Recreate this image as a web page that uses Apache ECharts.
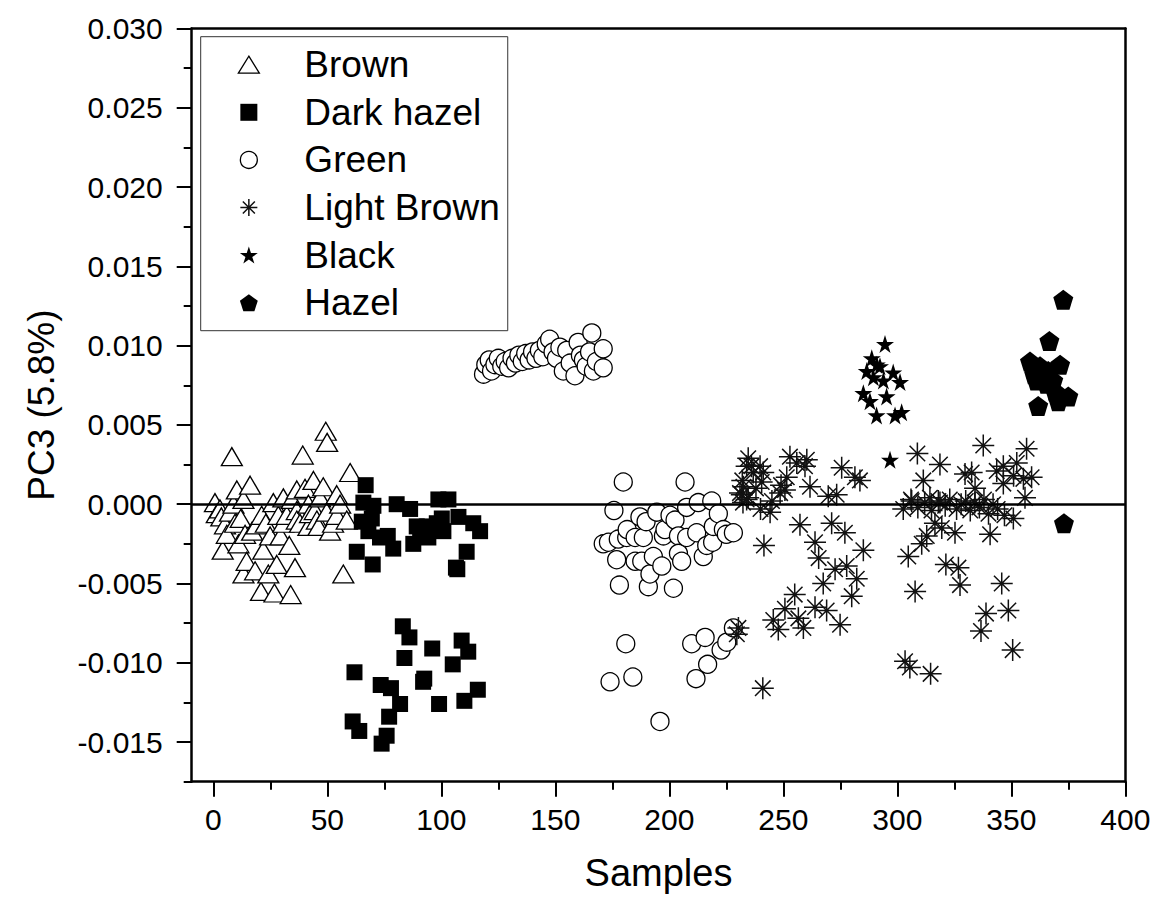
<!DOCTYPE html>
<html>
<head>
<meta charset="utf-8">
<script src="https://cdn.jsdelivr.net/npm/echarts@6/dist/echarts.min.js"></script>
<style>
html,body{margin:0;padding:0;background:#fff;}
#chart{width:1158px;height:904px;}
</style>
</head>
<body>
<div id="chart"></div>
<script>
// ---------------- data ----------------
const seriesNames = ['Brown', 'Dark hazel', 'Green', 'Light Brown', 'Black', 'Hazel'];

const xTicks = [0, 50, 100, 150, 200, 250, 300, 350, 400];
const xMinorTicks = [25, 75, 125, 175, 225, 275, 325, 375];
const yTicks = [-0.015, -0.010, -0.005, 0, 0.005, 0.010, 0.015, 0.020, 0.025, 0.030];
const yMinorTicks = [-0.0175, -0.0125, -0.0075, -0.0025, 0.0025, 0.0075, 0.0125, 0.0175, 0.0225, 0.0275];

const brown = [
  [0.7,0.0001],[1.5,-0.0006],[2.9,-0.0003],[3.5,-0.0008],[4.1,-0.0029],[5.1,-0.0013],[5.9,-0.0019],
  [7.3,-0.0005],[8.1,0.0030],[8.8,0.0000],[9.5,-0.0012],[10.3,0.0009],[11.0,-0.0025],[12.0,-0.0009],
  [13.2,0.0003],[13.2,-0.0044],[13.9,-0.0019],[14.6,-0.0036],[16.1,0.0012],[17.0,-0.0017],[18.3,-0.0042],
  [19.0,-0.0013],[20.9,-0.0055],[21.2,-0.0007],[21.9,-0.0029],[23.0,-0.0012],[24.1,-0.0044],[24.9,-0.0020],
  [26.3,0.0001],[26.8,-0.0056],[27.8,-0.0038],[28.5,-0.0007],[29.5,-0.0020],[30.7,-0.0012],[30.7,0.0004],
  [32.2,-0.0007],[33.3,-0.0026],[33.9,-0.0057],[34.4,0.0003],[35.8,-0.0040],[36.6,-0.0004],[36.6,-0.0010],
  [36.6,0.0009],[38.0,-0.0012],[39.2,0.0031],[40.2,0.0010],[41.7,0.0000],[41.7,-0.0014],[42.4,-0.0006],
  [43.9,0.0015],[44.5,-0.0004],[45.4,-0.0010],[46.1,-0.0014],[46.8,0.0004],[48.2,0.0011],[49.3,0.0046],
  [49.9,0.0039],[49.7,-0.0005],[51.2,-0.0017],[52.5,-0.0012],[54.1,0.0006],[54.1,-0.0007],[55.6,0.0000],
  [57.0,-0.0044],[58.5,-0.0010],[60.0,0.0020]
];

const darkHazel = [
  [62.9,-0.0030],[65.1,-0.0011],[65.8,0.0001],[66.8,0.0012],[68.0,-0.0017],[69.5,-0.0009],[69.9,-0.0038],
  [70.2,-0.0001],[73.1,-0.0021],[76.5,-0.0020],[78.9,-0.0028],[80.4,0.0000],[86.3,-0.0003],[87.7,-0.0025],
  [89.2,-0.0014],[90.7,-0.0018],[93.6,-0.0014],[94.3,-0.0021],[98.0,-0.0012],[98.7,0.0003],[100.2,-0.0009],
  [100.9,-0.0017],[103.1,0.0003],[106.4,-0.0040],[107.0,-0.0041],[107.5,-0.0008],[111.1,-0.0030],
  [114.0,-0.0012],[117.0,-0.0017],
  [61.1,-0.0137],[61.9,-0.0106],[64.0,-0.0143],[73.4,-0.0114],[73.8,-0.0151],[76.0,-0.0146],[77.1,-0.0134],
  [77.9,-0.0116],[81.9,-0.0126],[83.1,-0.0077],[83.8,-0.0097],[86.0,-0.0084],[92.0,-0.0112],[92.5,-0.0110],
  [96.0,-0.0091],[99.0,-0.0126],[105.0,-0.0101],[108.9,-0.0086],[110.1,-0.0124],[111.8,-0.0093],[116.0,-0.0117]
];

const green = [
  [118.5,0.0082],[119.5,0.0088],[121,0.0091],[122,0.0084],[123.5,0.0088],[125,0.0092],[126.5,0.0087],
  [128,0.0090],[129.5,0.0086],[131,0.0092],[132.5,0.0089],[134,0.0094],[135.5,0.0090],[137,0.0095],
  [138.5,0.0091],[140,0.0096],[141.5,0.0092],[143,0.0097],[144.5,0.0093],[146,0.0101],[147.5,0.0104],
  [149,0.0096],[150.5,0.0092],[152,0.0099],[153.5,0.0084],[155,0.0097],[156.5,0.0089],[158.6,0.0081],
  [160,0.0102],[161,0.0094],[162.3,0.0091],[163.5,0.0087],[165,0.0096],[166,0.0108],[166.7,0.0084],
  [168,0.0090],[171,0.0098],[171,0.0086],
  [171,-0.0025],[173.3,-0.0024],[174,-0.0112],[175.7,-0.0004],[176.9,-0.0035],[177.6,-0.0022],[178.1,-0.0051],
  [179.8,0.0014],[180.9,-0.0088],[181.3,-0.0021],[181.5,-0.0016],[184,-0.0109],[185,-0.0021],[185,-0.0036],
  [187.1,-0.0008],[187.9,-0.0036],[188.6,-0.0021],[189.8,-0.0011],[190.8,-0.0052],[191.5,-0.0044],
  [193,-0.0033],[194.5,-0.0005],[195.9,-0.0137],[196.7,-0.0039],[197.4,-0.0020],[198.1,-0.0016],
  [200.3,-0.0007],[201.8,-0.0053],[202.5,-0.0010],[204,-0.0020],[204,-0.0031],[205.4,-0.0036],[206.9,0.0014],
  [207.6,-0.0002],[207.6,-0.0021],[209.8,-0.0088],[211.7,-0.0110],[212,-0.0018],[212.7,0.0001],
  [214.9,-0.0033],[215.7,-0.0084],[216.4,-0.0026],[216.8,-0.0101],[218.6,0.0002],[219,-0.0024],
  [219.3,-0.0014],[221.5,-0.0006],[222.7,-0.0092],[223.7,-0.0016],[225,-0.0019],[225.2,-0.0087],
  [228.1,-0.0018],[228.1,-0.0078]
];

const lightBrown = [
  [229.6,-0.0082],[230.3,-0.0078],[231.0,0.0007],[231.8,0.0006],[232.0,0.0015],[232.3,0.0001],[232.5,0.0011],
  [233.9,0.0024],[233.9,0.0003],[234.6,0.0029],[234.6,0.0004],[236.0,0.0024],[236.8,0.0020],[238.0,0.0010],
  [239.8,0.0024],[240.0,-0.0003],[240.5,0.0014],[241.0,-0.0116],[241.2,0.0020],[241.5,-0.0026],
  [244.2,-0.0005],[245.0,0.0002],[245.6,-0.0073],[247.8,-0.0079],[248.6,0.0007],[249.0,0.0012],
  [250.7,0.0009],[250.7,-0.0066],[251.5,0.0017],[252.9,0.0030],[255.0,-0.0057],[255.9,0.0026],
  [256.6,-0.0072],[257.3,-0.0013],[258.8,-0.0078],[259.5,0.0024],[260.3,0.0028],[261.7,0.0011],
  [263.9,-0.0024],[263.9,-0.0065],[265.5,-0.0034],[267.5,-0.0050],[269.0,-0.0067],[269.7,0.0005],
  [271.2,-0.0012],[272.7,-0.0041],[273.4,0.0006],[274.9,-0.0076],[275.6,0.0023],[277.0,-0.0018],
  [277.8,-0.0039],[280.0,-0.0058],[281.4,0.0017],[282.2,-0.0047],[283.6,0.0015],[285.1,-0.0029],
  [302.6,-0.0003],[303.4,-0.0099],[304.8,-0.0033],[305.5,-0.0103],[306.0,0.0003],[306.3,0.0002],
  [307.8,-0.0055],[308.8,0.0032],[309.0,-0.0002],[310.7,-0.0025],[311.4,0.0015],[312.0,0.0001],
  [312.9,-0.0020],[314.3,0.0004],[314.6,-0.0107],[315.0,-0.0004],[316.5,-0.0012],[318.0,0.0002],
  [318.7,0.0025],[318.7,0.0001],[319.5,-0.0015],[321.0,-0.0001],[321.3,-0.0038],[323.0,0.0003],
  [325.3,-0.0018],[326.0,-0.0003],[326.8,-0.0040],[327.5,-0.0051],[328.0,0.0000],[329.7,0.0019],
  [330.0,0.0002],[332.0,-0.0004],[332.6,0.0020],[334.0,0.0001],[334.1,0.0010],[336.0,-0.0002],
  [336.7,-0.0080],[337.7,0.0037],[338.0,0.0003],[338.9,-0.0069],[340.0,-0.0006],[340.7,-0.0019],
  [342.0,0.0000],[343.6,0.0021],[344.0,-0.0003],[345.8,-0.0050],[346.5,0.0024],[346.5,0.0013],
  [347.0,-0.0007],[348.7,-0.0067],[350.6,-0.0092],[350.9,-0.0009],[351.0,0.0018],[352.4,0.0026],
  [355.3,0.0016],[356.0,0.0004],[356.7,0.0035],[358.9,0.0017]
];

const black = [
  [285.1,0.0070],[286.6,0.0084],[288.0,0.0065],[288.8,0.0092],[289.5,0.0080],[290.9,0.0056],[291.0,0.0088],
  [292.4,0.0087],[293.9,0.0078],[294.6,0.0101],[295.3,0.0068],[296.8,0.0028],[298.2,0.0083],[299.0,0.0056],
  [301.2,0.0077],[301.9,0.0058]
];

const hazel = [
  [358.2,0.0090],[360.0,0.0082],[361.1,0.0078],[361.8,0.0062],[362.6,0.0087],[364.0,0.0080],[365.5,0.0076],
  [366.2,0.0084],[366.7,0.0103],[368.4,0.0078],[369.2,0.0071],[370.6,0.0065],[371.4,0.0088],[372.8,0.0129],
  [373.1,-0.0012],[375.0,0.0068]
];

// ---------------- chart ----------------
const FONT = "'Liberation Sans', Arial, Helvetica, sans-serif";
const xMin = -9.5, xMax = 400, yMin = -0.0175, yMax = 0.030;

const ASTERISK = 'path://M10,0L10,20M0,10L20,10M2.93,2.93L17.07,17.07M2.93,17.07L17.07,2.93';
const STAR = 'path://M0,-10L2.25,-3.09L9.51,-3.09L3.63,1.18L5.88,8.09L0,3.82L-5.88,8.09L-3.63,1.18L-9.51,-3.09L-2.25,-3.09Z';
const PENTAGON = 'path://M0,-10L9.51,-3.09L5.88,8.09L-5.88,8.09L-9.51,-3.09Z';
const SQUARE = 'path://M0,0L10,0L10,10L0,10Z';

const styles = {
  'Brown':       {symbol: 'triangle', size: [21, 18], item: {color: '#fff', borderColor: '#000', borderWidth: 1.3}},
  'Dark hazel':  {symbol: SQUARE, size: 16, item: {color: '#000', borderColor: '#000', borderWidth: 0}},
  'Green':       {symbol: 'circle', size: 18, item: {color: '#fff', borderColor: '#000', borderWidth: 1.3}},
  'Light Brown': {symbol: ASTERISK, size: 22, item: {color: 'none', borderColor: '#111', borderWidth: 1.5}},
  'Black':       {symbol: STAR, size: 18, item: {color: '#000', borderColor: '#000', borderWidth: 0}},
  'Hazel':       {symbol: PENTAGON, size: 20, item: {color: '#000', borderColor: '#000', borderWidth: 0}}
};
const dataByName = {
  'Brown': brown, 'Dark hazel': darkHazel, 'Green': green,
  'Light Brown': lightBrown, 'Black': black, 'Hazel': hazel
};

const axisFont = {fontSize: 30, color: '#000', fontFamily: FONT};

const chart = echarts.init(document.getElementById('chart'), null, {renderer: 'svg'});

const series = [{
  type: 'scatter', name: '__zero', data: [], z: 1, silent: true,
  markLine: {
    silent: true, symbol: ['none', 'none'], animation: false,
    label: {show: false},
    lineStyle: {color: '#000', width: 2.5, type: 'solid'},
    data: [{yAxis: 0}]
  }
}].concat(seriesNames.map(n => ({
  type: 'scatter', name: n, data: dataByName[n],
  symbol: styles[n].symbol, symbolSize: styles[n].size,
  itemStyle: Object.assign({opacity: 1}, styles[n].item),
  emphasis: {disabled: true}, z: 2
})));

chart.setOption({
  animation: false,
  backgroundColor: '#fff',
  grid: {left: 191.7, right: 32.7, top: 28.5, bottom: 122.3, show: false},
  xAxis: [
    {
      type: 'value', min: xMin, max: xMax, position: 'bottom',
      axisLine: {show: true, onZero: false, lineStyle: {color: '#000', width: 2.5}},
      axisTick: {show: true, inside: false, length: 15, lineStyle: {color: '#000', width: 2}, customValues: xTicks},
      axisLabel: Object.assign({show: true, margin: 23, customValues: xTicks, formatter: v => String(v)}, axisFont),
      splitLine: {show: false},
      name: 'Samples', nameLocation: 'middle', nameGap: 72,
      nameTextStyle: {fontSize: 38, color: '#000', fontFamily: FONT}
    },
    {
      type: 'value', min: xMin, max: xMax, position: 'bottom',
      axisLine: {show: false, onZero: false},
      axisTick: {show: true, inside: false, length: 8, lineStyle: {color: '#000', width: 2}, customValues: xMinorTicks},
      axisLabel: {show: false}, splitLine: {show: false}
    },
    {
      type: 'value', min: xMin, max: xMax, position: 'top',
      axisLine: {show: true, onZero: false, lineStyle: {color: '#000', width: 2.5}},
      axisTick: {show: false}, axisLabel: {show: false}, splitLine: {show: false}
    }
  ],
  yAxis: [
    {
      type: 'value', min: yMin, max: yMax, position: 'left',
      axisLine: {show: true, onZero: false, lineStyle: {color: '#000', width: 2.5}},
      axisTick: {show: true, inside: false, length: 15, lineStyle: {color: '#000', width: 2}, customValues: yTicks},
      axisLabel: Object.assign({show: true, margin: 29, customValues: yTicks, formatter: v => v.toFixed(3)}, axisFont),
      splitLine: {show: false},
      name: 'PC3 (5.8%)', nameLocation: 'middle', nameGap: 132, nameRotate: 90,
      nameTextStyle: {fontSize: 37, color: '#000', fontFamily: FONT}
    },
    {
      type: 'value', min: yMin, max: yMax, position: 'left',
      axisLine: {show: false, onZero: false},
      axisTick: {show: true, inside: false, length: 8, lineStyle: {color: '#000', width: 2}, customValues: yMinorTicks},
      axisLabel: {show: false}, splitLine: {show: false}
    },
    {
      type: 'value', min: yMin, max: yMax, position: 'right',
      axisLine: {show: true, onZero: false, lineStyle: {color: '#000', width: 2.5}},
      axisTick: {show: false}, axisLabel: {show: false}, splitLine: {show: false}
    }
  ],
  legend: {
    show: true, orient: 'vertical', left: 200.7, top: 36.7,
    padding: [8, 8, 8, 37], itemWidth: 21, itemHeight: 17, itemGap: 7.6,
    borderColor: '#333', borderWidth: 1, backgroundColor: '#fff',
    selectedMode: false,
    textStyle: {fontSize: 37, color: '#000', fontFamily: FONT, lineHeight: 40, padding: [0, 0, 0, 40]},
    data: seriesNames.map(n => ({
      name: n,
      icon: styles[n].symbol,
      itemStyle: Object.assign({}, styles[n].item)
    }))
  },
  series: series
});
</script>
</body>
</html>
